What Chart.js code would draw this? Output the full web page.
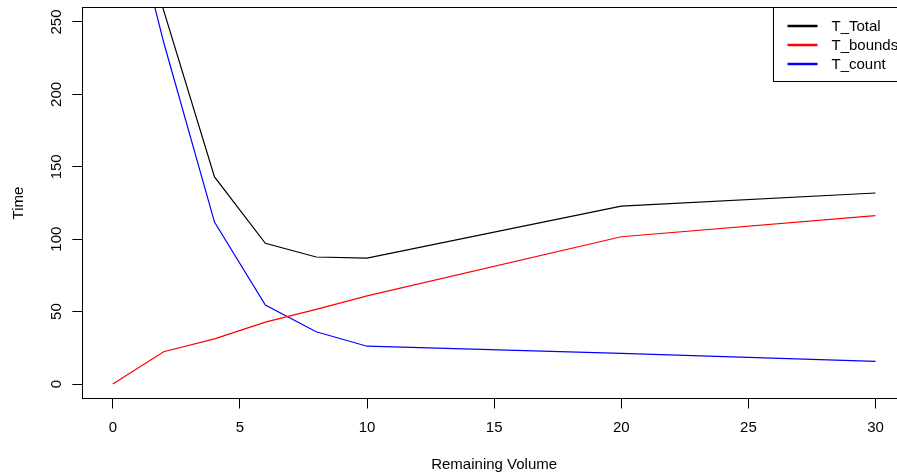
<!DOCTYPE html>
<html>
<head>
<meta charset="utf-8">
<script src="https://cdn.jsdelivr.net/npm/chart.js@4"></script>
<style>
  html, body { margin: 0; padding: 0; background: #fff; overflow: hidden; }
  #wrap { width: 906px; height: 476px; }
</style>
</head>
<body>
<div id="wrap"><canvas id="TimePlot" width="906" height="476"></canvas></div>
<script>
// values
const volumes = [0, 2, 4, 6, 8, 10, 20, 30];
const tTotal = [375, 258, 143, 97.2, 87.7, 87, 122.9, 131.9];
const tBounds = [0, 22.3, 31.2, 42.7, 51.6, 60.9, 101.7, 116.3];
const tCount = [375, 236, 111.8, 54.5, 36.1, 26.1, 21.2, 15.6];
const xTicks = [0, 5, 10, 15, 20, 25, 30];
const yTicks = [0, 50, 100, 150, 200, 250];
const seriesNames = ['T_Total', 'T_bounds', 'T_count'];
const seriesColors = ['#000000', '#ff0000', '#0000ff'];

const FONT = "'Liberation Sans', Arial, sans-serif";
Chart.defaults.font.family = FONT;
Chart.defaults.font.size = 15;
Chart.defaults.color = '#000';

const toPoints = (vals) => vals.map((v, i) => ({ x: volumes[i], y: v }));
// same rounding chart.js uses for its own 1px lines
const crisp = (p) => Math.round(p - 0.5) + 0.5;

// R style box around the plot + legend in the top right corner
const frameAndKey = {
  id: 'frameAndKey',
  afterDatasetsDraw(chart) {
    const { ctx, chartArea: a } = chart;
    const l = crisp(a.left), t = crisp(a.top), r = crisp(a.right), b = crisp(a.bottom);
    ctx.save();
    ctx.strokeStyle = '#000';
    ctx.lineWidth = 1;
    ctx.strokeRect(l, t, r - l, b - t);

    const boxW = 133, boxH = 74;
    const bx = crisp(a.right - boxW), by = t;
    ctx.fillStyle = '#fff';
    ctx.fillRect(bx, by, boxW, boxH);
    ctx.strokeRect(bx, by, boxW, boxH);
    ctx.font = '15px ' + FONT;
    ctx.textBaseline = 'middle';
    ctx.textAlign = 'left';
    chart.data.datasets.forEach((ds, i) => {
      const ry = by + 18.5 + i * 19;
      ctx.strokeStyle = ds.borderColor;
      ctx.lineWidth = 2.5;
      ctx.beginPath();
      ctx.moveTo(bx + 14, ry);
      ctx.lineTo(bx + 44, ry);
      ctx.stroke();
      ctx.fillStyle = '#000';
      ctx.fillText(ds.label, bx + 58, ry + 1);
    });
    ctx.restore();
  }
};

new Chart(document.getElementById('TimePlot'), {
  type: 'line',
  data: {
    datasets: [tTotal, tBounds, tCount].map((vals, i) => ({
      label: seriesNames[i],
      data: toPoints(vals),
      borderColor: seriesColors[i],
      borderWidth: 1.2,
      pointRadius: 0,
      tension: 0,
      fill: false
    }))
  },
  options: {
    responsive: false,
    animation: false,
    layout: { padding: { top: 7.5, left: 0, right: 0, bottom: 0 } },
    plugins: { legend: { display: false }, tooltip: { enabled: false } },
    scales: {
      x: {
        type: 'linear',
        min: -1.2,
        max: 31.2,
        afterBuildTicks: (s) => { s.ticks = xTicks.map(v => ({ value: v })); },
        afterFit: (s) => { s.height = 77.5; s.paddingLeft = 0; s.paddingRight = 0; },
        ticks: { autoSkip: false, maxRotation: 0, padding: 10, color: '#000' },
        grid: { drawOnChartArea: false, drawTicks: true, tickLength: 10, color: '#000', lineWidth: 1 },
        border: { display: true, color: '#000', width: 1 },
        title: { display: true, text: 'Remaining Volume', color: '#000', padding: { top: 0, bottom: 2 } }
      },
      y: {
        type: 'linear',
        min: -10,
        max: 260,
        afterBuildTicks: (s) => { s.ticks = yTicks.map(v => ({ value: v })); },
        afterFit: (s) => { s.width = 82.3; s.paddingTop = 0; s.paddingBottom = 0; },
        ticks: { autoSkip: false, minRotation: 90, maxRotation: 90, crossAlign: 'center', padding: 3, color: '#000' },
        grid: { drawOnChartArea: false, drawTicks: true, tickLength: 10, color: '#000', lineWidth: 1 },
        border: { display: true, color: '#000', width: 1 },
        title: { display: true, text: 'Time', color: '#000', padding: { top: 9.5, bottom: 0 } }
      }
    }
  },
  plugins: [frameAndKey]
});
</script>
</body>
</html>
